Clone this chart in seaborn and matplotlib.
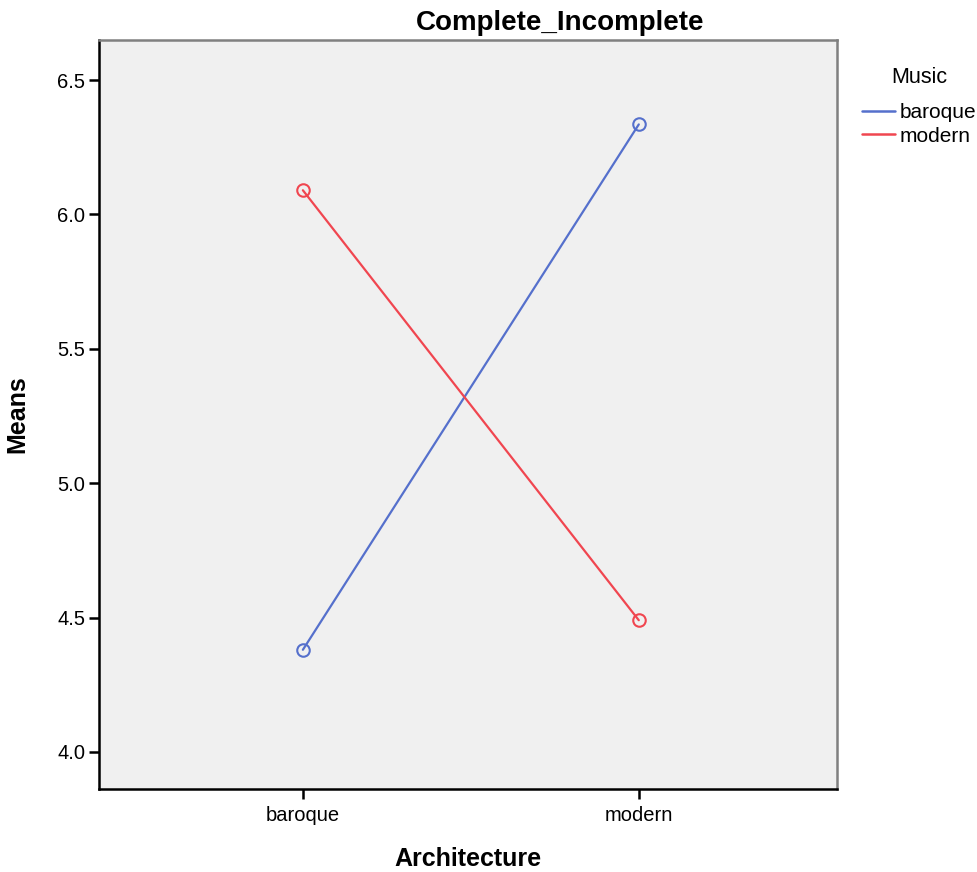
import pandas as pd
import seaborn as sns
import matplotlib.pyplot as plt
from matplotlib.lines import Line2D

architecture = ["baroque", "modern"]
music = ["baroque", "modern"]
means_baroque_music = [4.38, 6.335]
means_modern_music = [6.09, 4.49]

colors = {"baroque": "#5570CC", "modern": "#F04650"}


def make_plot():
    data = pd.DataFrame({
        "Architecture": architecture * 2,
        "Music": [music[0]] * 2 + [music[1]] * 2,
        "Means": means_baroque_music + means_modern_music,
    })

    sns.set_style("white")
    plt.rcParams["font.family"] = ["Liberation Sans", "DejaVu Sans"]
    plt.rcParams["text.color"] = "black"
    plt.rcParams["axes.labelcolor"] = "black"
    plt.rcParams["xtick.color"] = "black"
    plt.rcParams["ytick.color"] = "black"

    fig = plt.figure(figsize=(9.78, 8.72), dpi=100)
    ax = fig.add_axes([0.1012, 0.0952, 0.7546, 0.8589])
    ax.set_facecolor("#F0F0F0")

    sns.lineplot(data=data, x="Architecture", y="Means", hue="Music",
                 palette=colors, marker="o", markersize=9, mfc="none",
                 mew=1.5, linewidth=1.6, ax=ax, legend=False)
    # seaborn can't leave markers hollow with hue colours, so set edges per line
    for line in ax.get_lines():
        line.set_markeredgecolor(line.get_color())
        line.set_markerfacecolor("none")

    ax.set_xlim(-0.607, 1.59)
    ax.set_ylim(3.862, 6.649)
    ax.set_yticks([4.0, 4.5, 5.0, 5.5, 6.0, 6.5])
    ax.set_yticklabels(["4.0", "4.5", "5.0", "5.5", "6.0", "6.5"])

    for side in ["left", "bottom"]:
        ax.spines[side].set_color("black")
        ax.spines[side].set_linewidth(1.8)
    for side in ["top", "right"]:
        ax.spines[side].set_color("#808080")
        ax.spines[side].set_linewidth(1.8)

    ax.tick_params(axis="both", direction="out", length=7, width=1.8,
                   labelsize=14.5, color="black", pad=3, left=True, bottom=True)
    ax.tick_params(axis="x", pad=5)

    ax.set_xlabel("Architecture", fontsize=18, fontweight="bold", labelpad=16)
    ax.set_ylabel("Means", fontsize=18, fontweight="bold", labelpad=20)

    fig.text(0.573, 0.974, "Complete_Incomplete", fontsize=20,
             fontweight="bold", ha="center", va="center")

    handles = [Line2D([0], [0], color=colors[m], lw=1.8) for m in music]
    leg = fig.legend(handles, music, title="Music", loc="upper left",
                     bbox_to_anchor=(0.862, 0.945), frameon=False,
                     fontsize=15, title_fontsize=15.5, handlelength=1.6,
                     handletextpad=0.2, labelspacing=0.22)
    leg._legend_box.align = "center"
    leg._legend_box.sep = 11  # gap between legend title and entries

    fig.savefig("out.png", dpi=100)


def main():
    make_plot()

if __name__ == '__main__':
    main()
